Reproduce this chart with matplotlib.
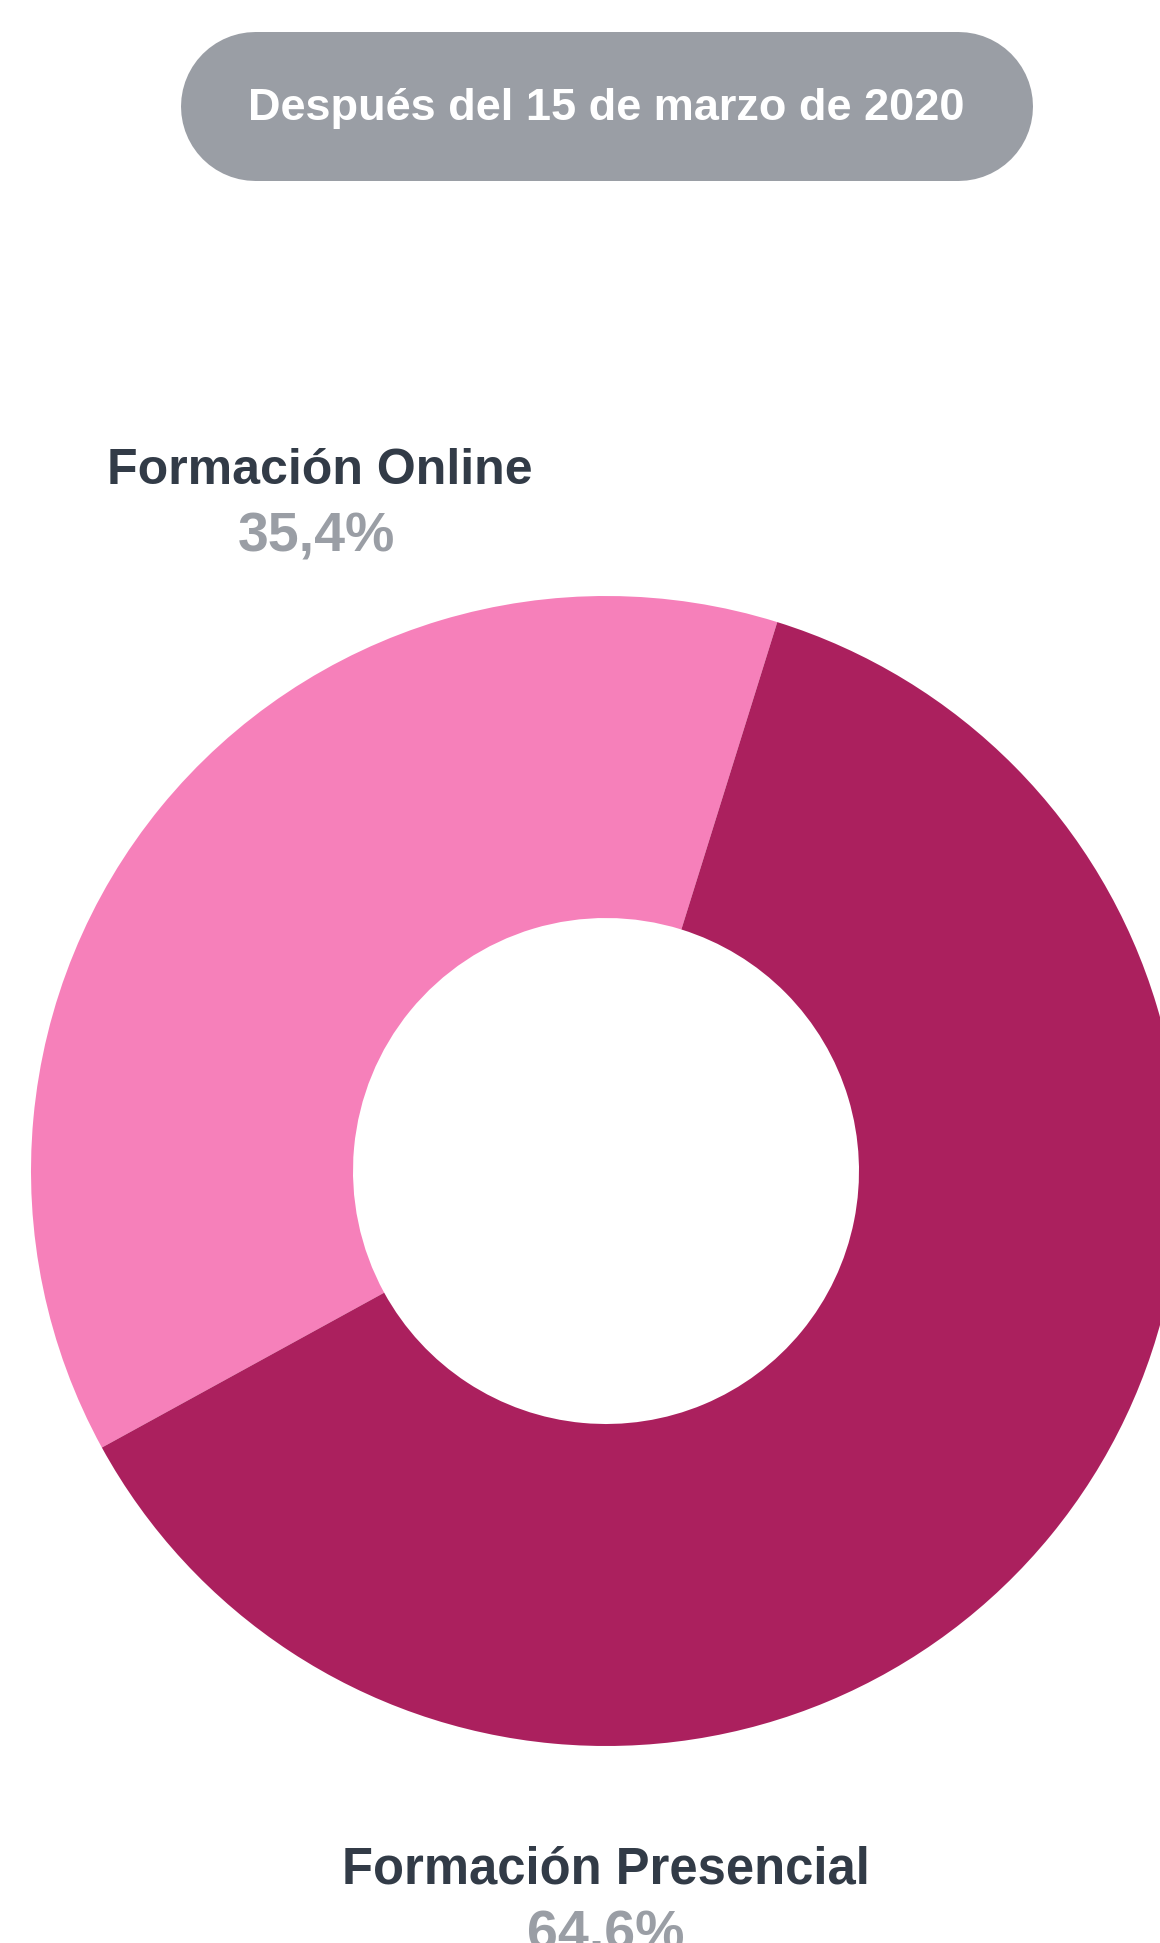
import matplotlib
matplotlib.use('Agg')
from matplotlib import pyplot as plt

#########################################################
### Data

title = 'Después del 15 de marzo de 2020'
categories = ['Formación Online', 'Formación Presencial']
pct_labels = ['35,4%', '64,6%']
# share of the ring as drawn in the picture (degrees / 3.6)
slice_share = [37.8, 62.2]
colors = ['#F680BA', '#AB205E']

W, H = 1160, 1943
DARK = '#323B47'
GREY = '#9A9EA5'
FONT = ['Liberation Sans', 'DejaVu Sans']

def px(y):
    """flip pixel row to data y"""
    return H - y

#########################################################
### Figure

fig = plt.figure(figsize=(W / 100, H / 100), dpi=100)
ax = fig.add_axes([0, 0, 1, 1])

# donut
ax.pie(slice_share, colors=colors, startangle=72.67, counterclock=True,
       radius=575, center=(606, px(1171)),
       wedgeprops={'width': 575 - 253, 'linewidth': 0})

ax.set_xlim(0, W)
ax.set_ylim(0, H)
ax.set_aspect('auto')
ax.axis('off')

# title pill: thick line with round caps (149 px tall)
ax.plot([180 + 74.5, 1032 - 74.5], [px(105.5), px(105.5)], color=GREY,
        lw=149 * 72 / 100, solid_capstyle='round', zorder=1)
ax.text(606, px(120), title, ha='center', va='baseline', color='white',
        fontsize=32.5, fontweight='bold', family=FONT, zorder=2)

# labels
ax.text(320, px(484), categories[0], ha='center', va='baseline', color=DARK,
        fontsize=36, fontweight='bold', family=FONT)
ax.text(316, px(552), pct_labels[0], ha='center', va='baseline', color=GREY,
        fontsize=40, fontweight='bold', family=FONT)

ax.text(606, px(1884), categories[1], ha='center', va='baseline', color=DARK,
        fontsize=36.5, fontweight='bold', family=FONT)
ax.text(606, px(1950), pct_labels[1], ha='center', va='baseline', color=GREY,
        fontsize=40, fontweight='bold', family=FONT)

fig.savefig('out.png', dpi=100, facecolor='white')
